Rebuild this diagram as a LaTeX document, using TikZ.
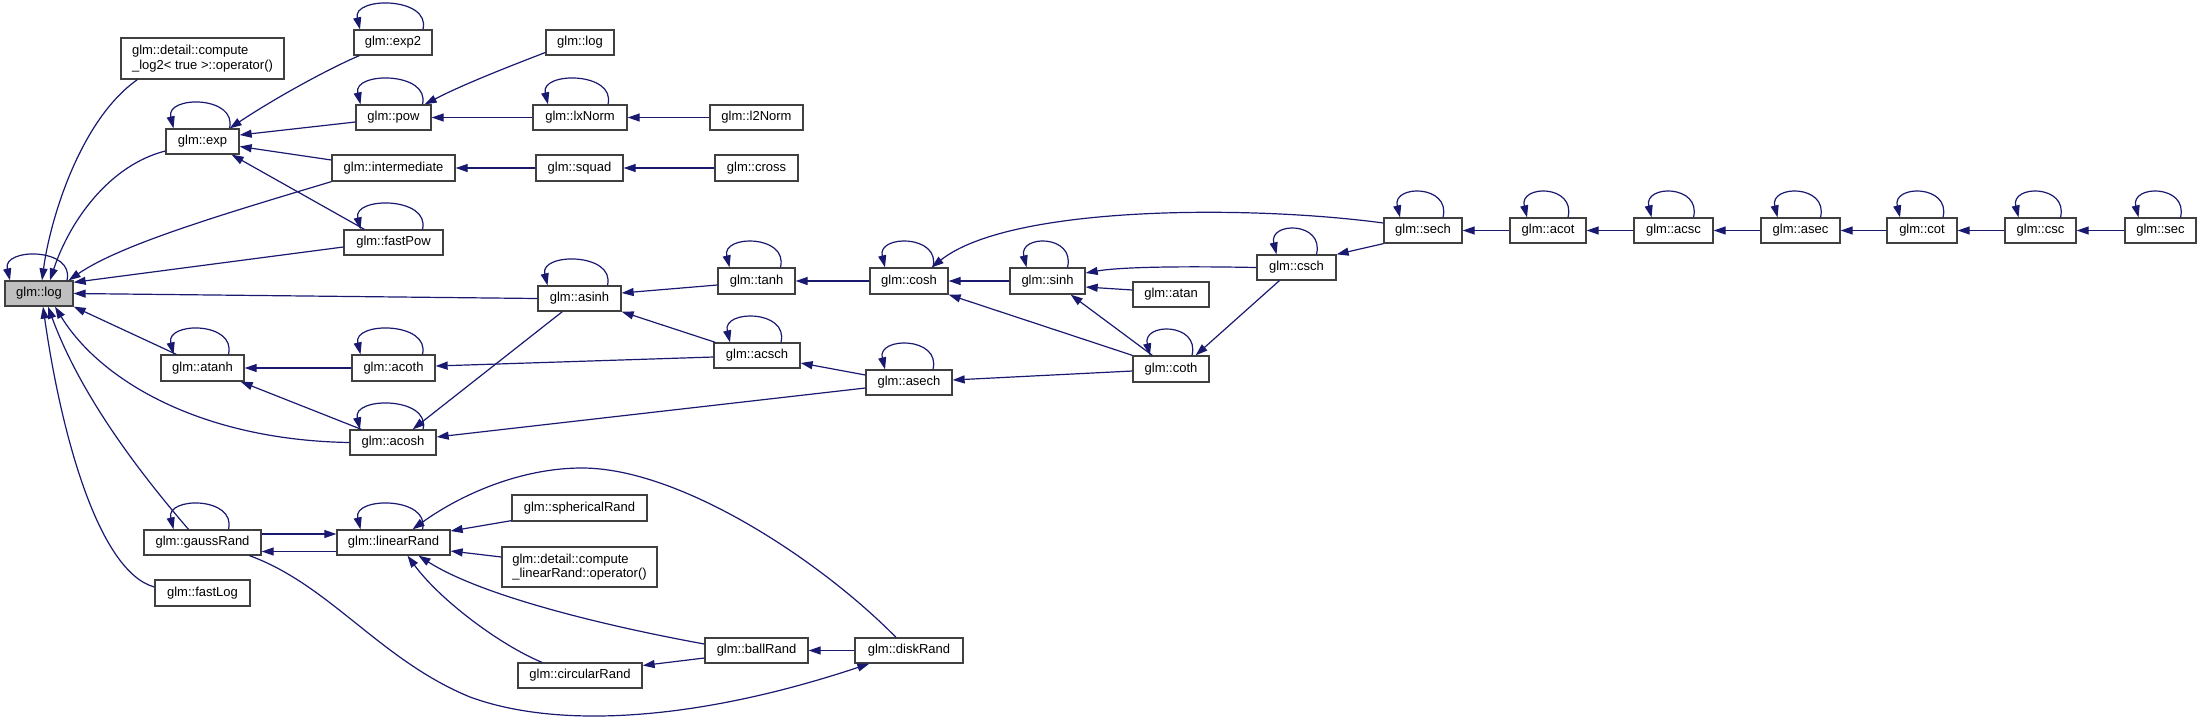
\documentclass[tikz,border=0pt]{standalone}
\usepackage{fontspec}
\setmainfont{Liberation Sans}
\usetikzlibrary{arrows.meta}
\definecolor{edgec}{HTML}{191970}
\definecolor{boxc}{HTML}{404040}
\definecolor{hilite}{HTML}{BFBFBF}
\tikzset{
  fn/.style={draw=boxc, line width=1.3pt, fill=white, inner sep=0pt, align=center,
    font=\fontsize{13pt}{14.5pt}\selectfont, text=black},
  cedge/.style={draw=edgec, line width=1.2pt, -{Triangle[length=12pt,width=8pt]}},
}
\newcommand{\fnode}[7][]{\node[fn,#1, minimum width=#5pt, minimum height=#6pt] (#2) at (#3,#4) {#7};}
\newcommand{\sloop}[3]{\draw[cedge] ([xshift=#2pt]#1.north) .. controls +(8,-33) and +(-8,-33) .. ([xshift=#3pt]#1.north);}
\begin{document}
\begin{tikzpicture}[x=1pt,y=-1pt]
\useasboundingbox (0,0) rectangle (2203,721);
% nodes
\fnode[fill=hilite]{log}{39}{293.5}{68}{25}{glm::log}
\fnode[align=left]{clog}{202.5}{58.5}{163}{41}{glm::detail::compute\\\_log2< true >::operator()}
\fnode{exptwo}{393}{42.5}{78}{25}{glm::exp2}
\fnode{exp}{202.5}{141.5}{73}{25}{glm::exp}
\fnode{pow}{393.5}{117.5}{75}{25}{glm::pow}
\fnode{inter}{393.5}{168}{123}{26}{glm::intermediate}
\fnode{fastpow}{393.5}{242.5}{99}{25}{glm::fastPow}
\fnode{logb}{580}{42.5}{68}{25}{glm::log}
\fnode{lxnorm}{580}{117.5}{94}{25}{glm::lxNorm}
\fnode{ltwonorm}{756.5}{117.5}{93}{25}{glm::l2Norm}
\fnode{squad}{579.5}{168}{87}{26}{glm::squad}
\fnode{cross}{756.5}{168}{83}{26}{glm::cross}
\fnode{asinh}{579.5}{298.5}{83}{25}{glm::asinh}
\fnode{atanh}{202.5}{368}{83}{26}{glm::atanh}
\fnode{acoth}{393.5}{368}{83}{26}{glm::acoth}
\fnode{acosh}{393}{442.5}{86}{25}{glm::acosh}
\fnode{gauss}{202.5}{542.5}{117}{25}{glm::gaussRand}
\fnode{linear}{393.5}{542.5}{113}{25}{glm::linearRand}
\fnode{fastlog}{202.5}{593}{95}{26}{glm::fastLog}
\fnode{spher}{579.5}{508}{135}{26}{glm::sphericalRand}
\fnode[align=left]{clin}{579.5}{567}{155}{40}{glm::detail::compute\\\_linearRand::operator()}
\fnode{circ}{580}{675.5}{124}{25}{glm::circularRand}
\fnode{ball}{756.5}{650.5}{103}{25}{glm::ballRand}
\fnode{disk}{909}{650.5}{108}{25}{glm::diskRand}
\fnode{tanh}{756.5}{281}{77}{26}{glm::tanh}
\fnode{acsch}{757}{355.5}{86}{25}{glm::acsch}
\fnode{cosh}{909}{281}{78}{26}{glm::cosh}
\fnode{asech}{909}{382.5}{86}{25}{glm::asech}
\fnode{sinh}{1047.5}{281}{75}{26}{glm::sinh}
\fnode{atan}{1171}{294.5}{76}{25}{glm::atan}
\fnode{coth}{1171}{369}{76}{26}{glm::coth}
\fnode{csch}{1296.5}{267.5}{79}{25}{glm::csch}
\fnode{sech}{1423}{230.5}{78}{25}{glm::sech}
\fnode{acot}{1548}{230.5}{76}{25}{glm::acot}
\fnode{acsc}{1673.5}{230.5}{79}{25}{glm::acsc}
\fnode{asec}{1800.5}{230.5}{79}{25}{glm::asec}
\fnode{cot}{1922}{230.5}{70}{25}{glm::cot}
\fnode{csc}{2040.5}{230.5}{71}{25}{glm::csc}
\fnode{sec}{2160.5}{230.5}{71}{25}{glm::sec}
% self loops
\sloop{log}{28}{-29}
\sloop{exp}{27}{-29}
\sloop{exptwo}{30}{-33}
\sloop{pow}{29}{-33}
\sloop{fastpow}{29}{-33}
\sloop{lxnorm}{28}{-32}
\sloop{asinh}{28}{-32}
\sloop{atanh}{26}{-29}
\sloop{acoth}{29}{-33}
\sloop{acosh}{30}{-33}
\sloop{gauss}{26}{-29}
\sloop{linear}{29}{-33}
\sloop{tanh}{24}{-27}
\sloop{acsch}{24}{-27}
\sloop{cosh}{24}{-24}
\sloop{asech}{24}{-24}
\sloop{sinh}{20}{-21}
\sloop{csch}{20}{-20}
\sloop{coth}{21}{-21}
\sloop{sech}{20}{-23}
\sloop{acot}{20}{-21}
\sloop{acsc}{20}{-22}
\sloop{asec}{20}{-23}
\sloop{cot}{21}{-22}
\sloop{csc}{20}{-22}
\sloop{sec}{20}{-22}
% edges into glm::log
\draw[cedge] ([xshift=17pt]clog.south west) .. controls (80,120) and (50,220) .. ([xshift=3pt]log.north);
\draw[cedge] ([yshift=-9.5pt]exp.west) .. controls (110,165) and (70,220) .. ([xshift=11pt]log.north);
\draw[cedge] (inter.south west) .. controls (220,215) and (120,245) .. ([xshift=-5pt]log.north east);
\draw[cedge] ([yshift=-4.5pt]fastpow.west) -- ([yshift=-2pt]log.north east);
\draw[cedge] (asinh.west) -- (log.east);
\draw[cedge] ([xshift=16pt]atanh.north west) -- (log.south east);
\draw[cedge] (acosh.west) .. controls (200,440) and (100,380) .. ([xshift=16pt]log.south);
\draw[cedge] ([xshift=-14pt]gauss.north) .. controls (120,450) and (75,380) .. ([xshift=9pt]log.south);
\draw[cedge] ([yshift=6pt]fastlog.west) .. controls (100,572) and (62,440) .. ([xshift=4pt]log.south);
% exp group
\draw[cedge] ([xshift=6pt]exptwo.south west) .. controls (330,68) and (275,98) .. ([xshift=-10pt]exp.north east);
\draw[cedge] ([yshift=-4.5pt]pow.west) -- ([yshift=6.5pt]exp.east);
\draw[cedge] ([yshift=8pt]inter.west) -- ([yshift=-5pt]exp.east);
\draw[cedge] ([xshift=21pt]fastpow.north west) -- ([xshift=-8pt]exp.south east);
\draw[cedge] ([yshift=-10pt]logb.west) .. controls (505,68) and (462,85) .. ([xshift=-7pt]pow.north east);
\draw[cedge] (lxnorm) -- (pow);
\draw[cedge] (ltwonorm) -- (lxnorm);
\draw[cedge] (squad) -- (inter);
\draw[cedge] (cross) -- (squad);
% hyperbolic group
\draw[cedge] ([yshift=-4pt]tanh.west) -- ([yshift=5.5pt]asinh.east);
\draw[cedge] ([xshift=2pt]acsch.north west) -- (asinh.south east);
\draw[cedge] ([xshift=25pt]asinh.south west) -- ([xshift=-24pt]acosh.north east);
\draw[cedge] (acoth) -- (atanh);
\draw[cedge] ([xshift=12pt]acosh.north west) -- ([xshift=-4pt]atanh.south east);
\draw[cedge] ([yshift=-1.5pt]acsch.west) -- ([yshift=2pt]acoth.east);
\draw[cedge] ([yshift=-5.5pt]asech.west) -- ([yshift=5.5pt]acosh.east);
\draw[cedge] ([yshift=7.5pt]asech.west) -- ([yshift=-7.5pt]acsch.east);
\draw[cedge] (cosh) -- (tanh);
\draw[cedge] (sinh) -- (cosh);
\draw[cedge] (coth.north west) -- (cosh.south east);
\draw[cedge] ([yshift=7.5pt]sech.west) .. controls (1250,205) and (1010,205) .. ([xshift=-17pt]cosh.north east);
\draw[cedge] (csch.west) .. controls (1180,266) and (1120,267) .. ([yshift=8pt]sinh.east);
\draw[cedge] ([yshift=4.5pt]atan.west) -- ([yshift=-6pt]sinh.east);
\draw[cedge] ([xshift=20pt]coth.north west) -- ([xshift=-15pt]sinh.south east);
\draw[cedge] ([yshift=-2pt]coth.west) -- ([yshift=2.5pt]asech.east);
\draw[cedge] ([xshift=23pt]csch.south west) -- ([xshift=-14pt]coth.north east);
\draw[cedge] (sech.south west) -- (csch.north east);
\draw[cedge] (acot) -- (sech);
\draw[cedge] (acsc) -- (acot);
\draw[cedge] (asec) -- (acsc);
\draw[cedge] (cot) -- (asec);
\draw[cedge] (csc) -- (cot);
\draw[cedge] (sec) -- (csc);
% random group
\draw[cedge] ([yshift=8.5pt]gauss.east) -- ([yshift=8.5pt]linear.west);
\draw[cedge] ([yshift=-9pt]linear.west) -- ([yshift=-9pt]gauss.east);
\draw[cedge] ([yshift=1pt]spher.south west) -- ([yshift=11.5pt]linear.east);
\draw[cedge] ([yshift=10pt]clin.west) -- ([yshift=-8.5pt]linear.east);
\draw[cedge] ([yshift=-7.5pt]ball.west) -- ([yshift=10pt]circ.east);
\draw[cedge] (disk) -- (ball);
\draw[cedge] ([yshift=6.5pt]ball.west) .. controls (600,625) and (480,595) .. ([xshift=25pt]linear.south);
\draw[cedge] ([xshift=-38pt]circ.north) .. controls (500,645) and (440,600) .. ([xshift=14pt]linear.south);
\draw[cedge] ([xshift=-13pt]disk.north) .. controls (820,560) and (680,468) .. (582,468) .. controls (520,468) and (460,495) .. ([xshift=19pt]linear.north);
\draw[cedge] ([xshift=47pt]gauss.south) .. controls (330,585) and (380,660) .. (470,697) .. controls (560,730) and (700,720) .. ([xshift=15pt]disk.south west);
\end{tikzpicture}
\end{document}
